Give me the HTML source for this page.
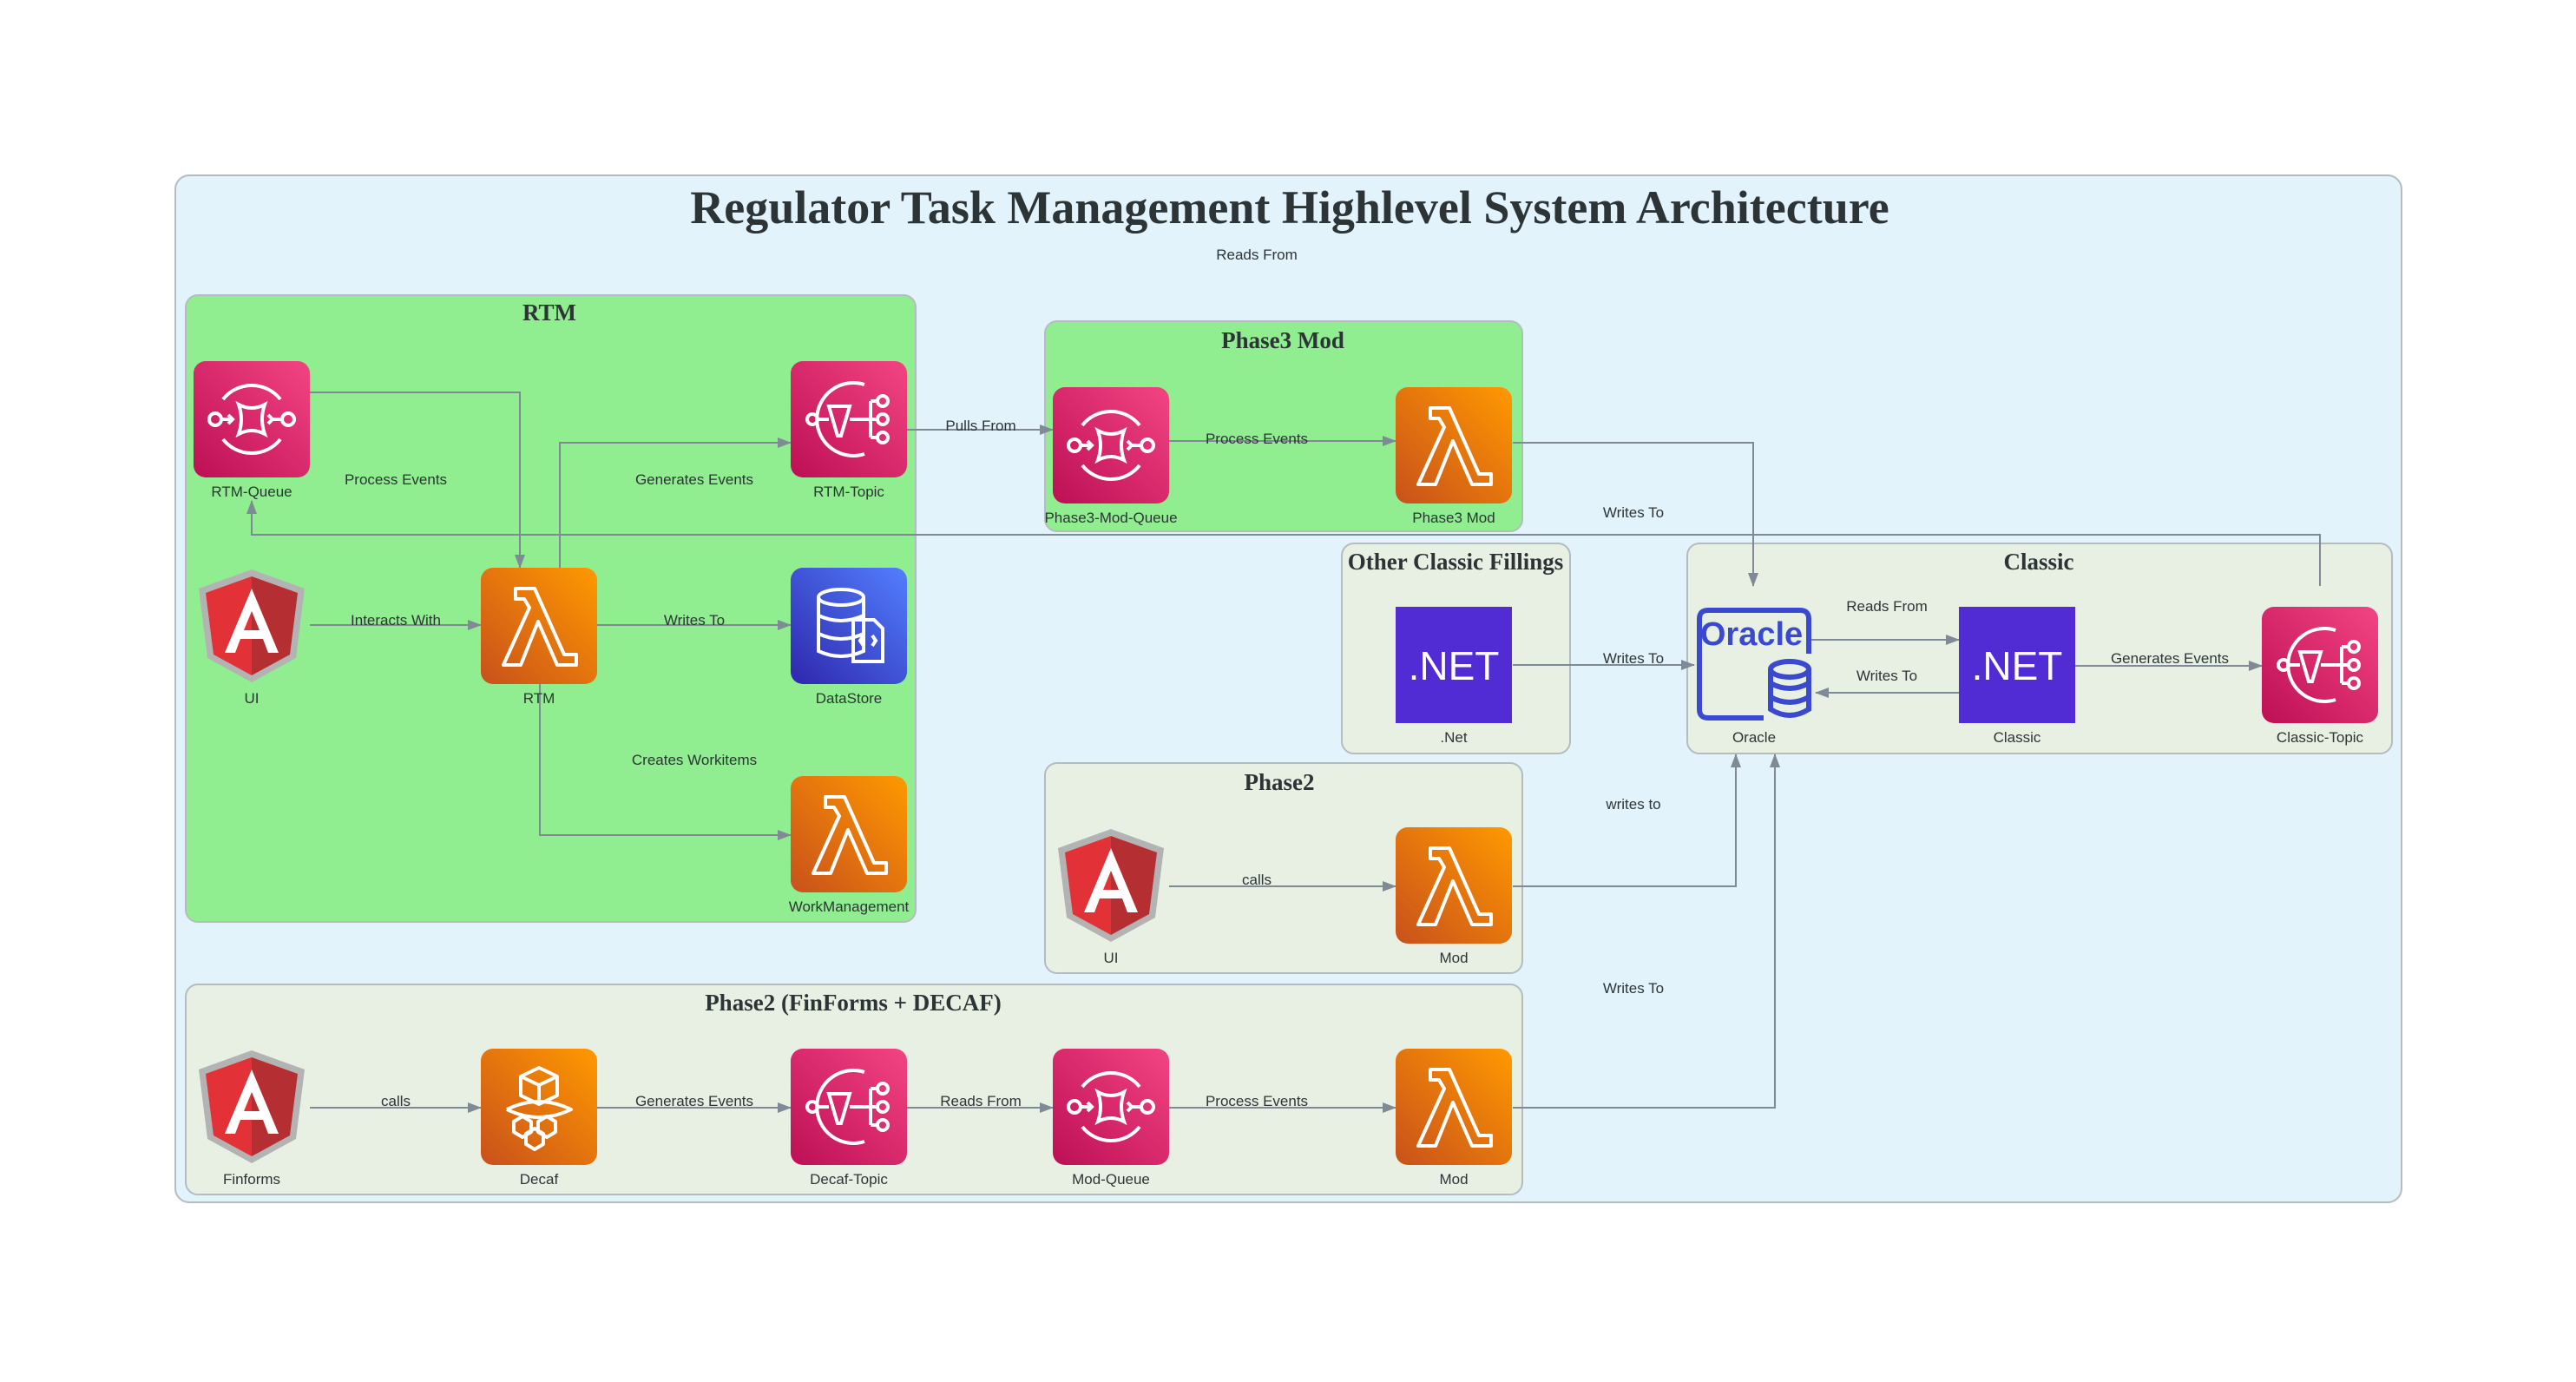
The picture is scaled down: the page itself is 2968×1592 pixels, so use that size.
<!DOCTYPE html>
<html><head><meta charset="utf-8"><style>html,body{margin:0;padding:0;background:#fff}svg{display:block}</style></head><body>
<svg width="2968" height="1592" viewBox="0 0 2968 1592" xmlns="http://www.w3.org/2000/svg" font-family="Liberation Sans, sans-serif">
<defs>
<linearGradient id="pk" x1="0" y1="1" x2="1" y2="0"><stop offset="0" stop-color="#bd0f55"/><stop offset="1" stop-color="#f34482"/></linearGradient>
<linearGradient id="or" x1="0" y1="1" x2="1" y2="0"><stop offset="0" stop-color="#c8511b"/><stop offset="1" stop-color="#ff9900"/></linearGradient>
<linearGradient id="bl" x1="0" y1="1" x2="1" y2="0"><stop offset="0" stop-color="#2e27ad"/><stop offset="1" stop-color="#527fff"/></linearGradient>
<marker id="ar" markerWidth="16" markerHeight="12" refX="15" refY="6" orient="auto" markerUnits="userSpaceOnUse"><path d="M0,0 L16,6 L0,12 z" fill="#7f8a96"/></marker>
<symbol id="sqs" viewBox="0 0 134 134"><rect width="134" height="134" rx="14" fill="url(#pk)"/><g fill="none" stroke="#fff" stroke-width="4"><path d="M34,44 A42,42 0 0 1 100,44"/><path d="M34,90 A42,42 0 0 0 100,90"/><circle cx="25" cy="67" r="7"/><circle cx="109" cy="67" r="7"/><path d="M33,67 H44 M40,62 L45,67 L40,72"/><path d="M90,67 H101 M86,62 L91,67 L86,72"/><path d="M52,50 Q67,58 82,50 Q76,67 82,84 Q67,76 52,84 Q58,67 52,50 z"/></g></symbol>
<symbol id="sns" viewBox="0 0 134 134"><rect width="134" height="134" rx="14" fill="url(#pk)"/><g fill="none" stroke="#fff" stroke-width="4"><path d="M85,27 A42,42 0 1 0 85,107"/><circle cx="25" cy="67" r="6"/><path d="M31,67 H44"/><path d="M44,52 H68 L58,86 H54 z"/><path d="M68,67 H92 M92,46 V88 M92,46 H100 M92,67 H100 M92,88 H100"/><circle cx="106" cy="46" r="6"/><circle cx="106" cy="67" r="6"/><circle cx="106" cy="88" r="6"/></g></symbol>
<symbol id="lam" viewBox="0 0 134 134"><rect width="134" height="134" rx="14" fill="url(#or)"/><path d="M40,24 H62 L96,100 H110 V112 H88 L66,62 L46,112 H26 L56,46 L50,36 H40 z" fill="none" stroke="#fff" stroke-width="4" stroke-linejoin="round"/></symbol>
<symbol id="ds" viewBox="0 0 134 134"><rect width="134" height="134" rx="14" fill="url(#bl)"/><g fill="none" stroke="#fff" stroke-width="4"><ellipse cx="58" cy="34" rx="26" ry="9"/><path d="M32,34 V96 Q58,108 84,96 V34 M32,55 Q58,67 84,55 M32,76 Q58,88 84,76"/><path d="M72,60 H96 L106,70 V108 H72 z"/><path d="M84,78 L80,84 L84,90 M94,78 L98,84 L94,90"/></g></symbol>
<symbol id="dec" viewBox="0 0 134 134"><rect width="134" height="134" rx="14" fill="url(#or)"/><g fill="none" stroke="#fff" stroke-width="4" stroke-linejoin="round"><path d="M67,22 L88,32 V54 L67,64 L46,54 V32 z M46,32 L67,42 L88,32 M67,42 V64"/><path d="M30,70 Q67,52 104,70 Q67,88 30,70"/><path d="M48,78 L58,84 V96 L48,102 L38,96 V84 z M76,78 L86,84 V96 L76,102 L66,96 V84 z M62,92 L72,98 V110 L62,116 L52,110 V98 z"/></g></symbol>
<symbol id="net" viewBox="0 0 134 134"><rect width="134" height="134" fill="#512bd4"/><text x="67" y="84" text-anchor="middle" fill="#fff" font-size="46" font-family="Liberation Sans, sans-serif">.NET</text></symbol>
<symbol id="ng" viewBox="0 0 134 134"><path d="M67,2 L128,24 L118,104 L67,132 L16,104 L6,24 z" fill="#b3b3b3"/><path d="M67,10 L120,29 L111,100 L67,124 z" fill="#b52e31"/><path d="M67,10 L14,29 L23,100 L67,124 z" fill="#e23237"/><path d="M67,24 L36,98 H48 L54,82 H80 L86,98 H98 z M58,72 L67,50 L76,72 z" fill="#fff"/></symbol>
<symbol id="ora" viewBox="0 0 134 134"><g fill="none" stroke="#3a49d0" stroke-width="6"><path d="M78,128 H14 Q4,128 4,118 V14 Q4,4 14,4 H120 Q130,4 130,14 V54"/><ellipse cx="108" cy="72" rx="22" ry="9"/><path d="M86,72 V118 Q108,132 130,118 V72 M86,88 Q108,100 130,88 M86,104 Q108,116 130,104"/></g><text x="64" y="44" text-anchor="middle" fill="#3a49d0" font-size="38" font-weight="bold" font-family="Liberation Sans Narrow, Liberation Sans, sans-serif">Oracle</text></symbol>
</defs>
<rect width="2968" height="1592" fill="#fff"/>
<rect x="202" y="202" width="2565" height="1183" rx="16" fill="#e2f3fb" stroke="#b4bcc0" stroke-width="2"/>
<text x="1486" y="257" text-anchor="middle" font-family="Liberation Serif, serif" font-weight="bold" font-size="54" fill="#2d3436">Regulator Task Management Highlevel System Architecture</text>
<g font-family="Liberation Serif, serif" font-weight="bold" font-size="27" fill="#2d3436" text-anchor="middle">
<rect x="214" y="340" width="841" height="722" rx="14" fill="#90ee90" stroke="#b4bcc0" stroke-width="2"/>
<text x="633" y="369">RTM</text>
<rect x="1204" y="370" width="550" height="242" rx="14" fill="#90ee90" stroke="#b4bcc0" stroke-width="2"/>
<text x="1478" y="401">Phase3 Mod</text>
<rect x="1546" y="626" width="263" height="242" rx="14" fill="#e8f0e4" stroke="#b4bcc0" stroke-width="2"/>
<text x="1677" y="656">Other Classic Fillings</text>
<rect x="1944" y="626" width="812" height="242" rx="14" fill="#e8f0e4" stroke="#b4bcc0" stroke-width="2"/>
<text x="2349" y="656">Classic</text>
<rect x="1204" y="879" width="550" height="242" rx="14" fill="#e8f0e4" stroke="#b4bcc0" stroke-width="2"/>
<text x="1474" y="910">Phase2</text>
<rect x="214" y="1134" width="1540" height="242" rx="14" fill="#e8f0e4" stroke="#b4bcc0" stroke-width="2"/>
<text x="983" y="1164">Phase2 (FinForms + DECAF)</text>
</g>
<g fill="none" stroke="#7f8a96" stroke-width="2" marker-end="url(#ar)">
<path d="M357,452 H599 V654"/>
<path d="M645,654 V510 H911"/>
<path d="M357,720 H554"/>
<path d="M688,720 H911"/>
<path d="M622,788 V962 H911"/>
<path d="M1045,495 H1213"/>
<path d="M1347,508 H1608"/>
<path d="M1743,510 H2020 V675"/>
<path d="M2673,675 V616 H290 V577"/>
<path d="M1743,766 H1952"/>
<path d="M2086,737 H2257"/>
<path d="M2257,798 H2092"/>
<path d="M2391,767 H2606"/>
<path d="M1347,1021 H1608"/>
<path d="M1743,1021 H2000 V869"/>
<path d="M357,1276 H554"/>
<path d="M688,1276 H911"/>
<path d="M1045,1276 H1213"/>
<path d="M1347,1276 H1608"/>
<path d="M1743,1276 H2045 V869"/>
</g>
<g font-size="17" fill="#2d3436" text-anchor="middle">
<text x="1448" y="299">Reads From</text>
<text x="456" y="558">Process Events</text>
<text x="800" y="558">Generates Events</text>
<text x="456" y="720">Interacts With</text>
<text x="800" y="720">Writes To</text>
<text x="800" y="881">Creates Workitems</text>
<text x="1130" y="496">Pulls From</text>
<text x="1448" y="511">Process Events</text>
<text x="1882" y="596">Writes To</text>
<text x="1882" y="764">Writes To</text>
<text x="2174" y="704">Reads From</text>
<text x="2174" y="784">Writes To</text>
<text x="2500" y="764">Generates Events</text>
<text x="1448" y="1019">calls</text>
<text x="1882" y="932">writes to</text>
<text x="1882" y="1144">Writes To</text>
<text x="456" y="1274">calls</text>
<text x="800" y="1274">Generates Events</text>
<text x="1130" y="1274">Reads From</text>
<text x="1448" y="1274">Process Events</text>
</g>
<use href="#sqs" x="223" y="416" width="134" height="134"/>
<use href="#sns" x="911" y="416" width="134" height="134"/>
<use href="#ng" x="223" y="654" width="134" height="134"/>
<use href="#lam" x="554" y="654" width="134" height="134"/>
<use href="#ds" x="911" y="654" width="134" height="134"/>
<use href="#lam" x="911" y="894" width="134" height="134"/>
<use href="#sqs" x="1213" y="446" width="134" height="134"/>
<use href="#lam" x="1608" y="446" width="134" height="134"/>
<use href="#net" x="1608" y="699" width="134" height="134"/>
<use href="#ora" x="1954" y="699" width="134" height="134"/>
<use href="#net" x="2257" y="699" width="134" height="134"/>
<use href="#sns" x="2606" y="699" width="134" height="134"/>
<use href="#ng" x="1213" y="953" width="134" height="134"/>
<use href="#lam" x="1608" y="953" width="134" height="134"/>
<use href="#ng" x="223" y="1208" width="134" height="134"/>
<use href="#dec" x="554" y="1208" width="134" height="134"/>
<use href="#sns" x="911" y="1208" width="134" height="134"/>
<use href="#sqs" x="1213" y="1208" width="134" height="134"/>
<use href="#lam" x="1608" y="1208" width="134" height="134"/>
<g font-size="17" fill="#2d3436" text-anchor="middle">
<text x="290" y="572">RTM-Queue</text>
<text x="978" y="572">RTM-Topic</text>
<text x="290" y="810">UI</text>
<text x="621" y="810">RTM</text>
<text x="978" y="810">DataStore</text>
<text x="978" y="1050">WorkManagement</text>
<text x="1280" y="602">Phase3-Mod-Queue</text>
<text x="1675" y="602">Phase3 Mod</text>
<text x="1675" y="855">.Net</text>
<text x="2021" y="855">Oracle</text>
<text x="2324" y="855">Classic</text>
<text x="2673" y="855">Classic-Topic</text>
<text x="1280" y="1109">UI</text>
<text x="1675" y="1109">Mod</text>
<text x="290" y="1364">Finforms</text>
<text x="621" y="1364">Decaf</text>
<text x="978" y="1364">Decaf-Topic</text>
<text x="1280" y="1364">Mod-Queue</text>
<text x="1675" y="1364">Mod</text>
</g>
</svg>
</body></html>
